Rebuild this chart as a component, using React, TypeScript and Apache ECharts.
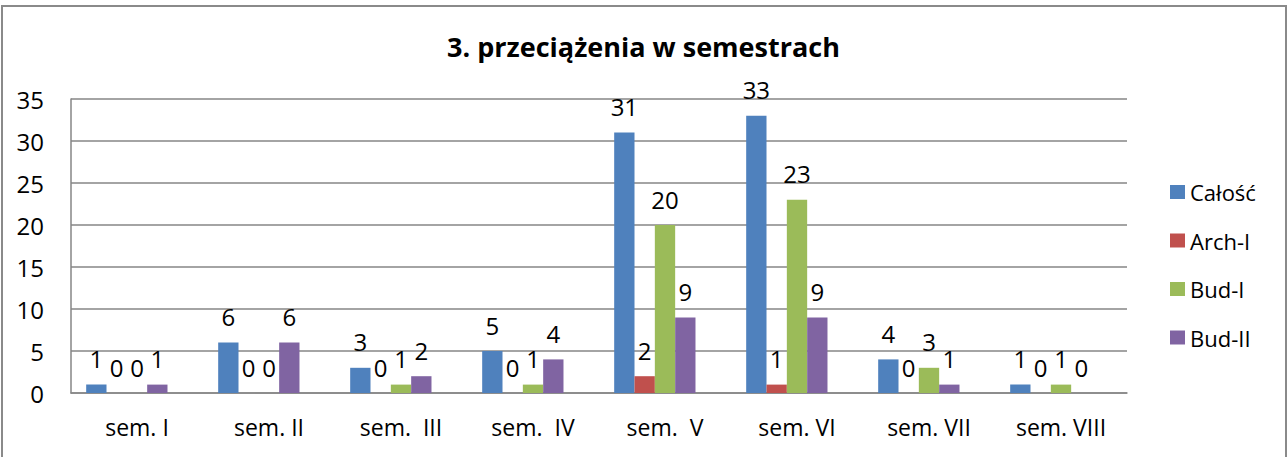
import React, { useEffect, useRef } from "react";
import * as echarts from "echarts";

const categories = ["sem. I", "sem. II", "sem.  III", "sem.  IV", "sem.  V", "sem. VI", "sem. VII", "sem. VIII"];
const seriesNames = ["Całość", "Arch-I", "Bud-I", "Bud-II"];
const calosc = [1, 6, 3, 5, 31, 33, 4, 1];
const archI = [0, 0, 0, 0, 2, 1, 0, 0];
const budI = [0, 0, 1, 1, 20, 23, 3, 1];
const budII = [1, 6, 2, 4, 9, 9, 1, 0];
const emptySlot = [null, null, null, null, null, null, null, null];
const colors = ["#4F81BD", "#C0504D", "#9BBB59", "#8064A2"];
const yTicks = { min: 0, max: 35, interval: 5 };

const FONT = "'Open Sans', sans-serif";

export default function App() {
  const ref = useRef<HTMLDivElement>(null);
  useEffect(() => {
    const chart = echarts.init(ref.current!, null, { renderer: "svg" });
    const values = [calosc, archI, budI, budII];
    const label = {
      show: true,
      position: "top",
      distance: 14,
      color: "#000",
      fontFamily: FONT,
      fontSize: 24,
    };
    chart.setOption({
      animation: false,
      backgroundColor: "#fff",
      title: {
        text: "3. przeciążenia w semestrach",
        left: "center",
        top: 28,
        textStyle: { fontFamily: FONT, fontWeight: "bold", fontSize: 27, color: "#000" },
      },
      grid: { left: 71, right: 160, top: 99, bottom: 64 },
      legend: {
        data: seriesNames,
        orient: "vertical",
        left: 1170,
        top: 181,
        padding: 0,
        itemWidth: 15,
        itemHeight: 14,
        itemGap: 26.5,
        icon: "rect",
        textStyle: { fontFamily: FONT, fontSize: 22, color: "#000", lineHeight: 22 },
      },
      xAxis: {
        type: "category",
        data: categories,
        axisLine: { show: true, lineStyle: { color: "#868686", width: 1.5 } },
        axisTick: { show: false },
        axisLabel: { fontFamily: FONT, fontSize: 23, color: "#000", margin: 22, interval: 0 },
      },
      yAxis: {
        type: "value",
        min: yTicks.min,
        max: yTicks.max,
        interval: yTicks.interval,
        axisLine: { show: true, lineStyle: { color: "#868686", width: 1.5 } },
        axisTick: { show: false },
        axisLabel: { fontFamily: FONT, fontSize: 24, color: "#000", margin: 27 },
        splitLine: { show: true, lineStyle: { color: "#868686", width: 1.5 } },
      },
      graphic: [
        {
          type: "rect",
          shape: { x: 2, y: 6, width: 1284, height: 470 },
          style: { fill: "none", stroke: "#8a8a8a", lineWidth: 2 },
          silent: true,
        },
      ],
      series: [
        ...seriesNames.map((name, i) => ({
          name,
          type: "bar",
          data: values[i],
          itemStyle: { color: colors[i] },
          label,
          barGap: "0%",
          barCategoryGap: "23%",
        })),
        {
          name: "_spacer",
          type: "bar",
          data: emptySlot,
          barGap: "0%",
          barCategoryGap: "23%",
          silent: true,
        },
      ],
    });
    return () => chart.dispose();
  }, []);
  return <div ref={ref} style={{ position: "fixed", left: 0, top: 0, width: 1287, height: 457 }} />;
}
